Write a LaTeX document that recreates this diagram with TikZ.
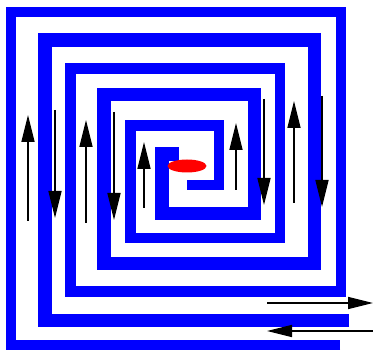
\documentclass[tikz,border=0pt]{standalone}
\usetikzlibrary{arrows.meta}
\begin{document}
\begin{tikzpicture}[x=1pt,y=-1pt,
  coilA/.style={draw=blue,line width=10.5pt,line join=miter},
  coilB/.style={draw=blue,line width=13.5pt,line join=miter},
  flow/.style={draw=black,line width=1.4pt,-{Triangle[length=27pt,width=13pt]}},
  hflow/.style={draw=black,line width=1.4pt,-{Triangle[length=25pt,width=12pt]}}]
\useasboundingbox (0,0) rectangle (373,350);
% conductor A
\draw[coilA] (340,345) -- (11,345) -- (11,12) -- (341,12) -- (341,291.5)
  -- (70.5,291.5) -- (70.5,68.5) -- (280,68.5) -- (280,238) -- (130.5,238)
  -- (130.5,125.5) -- (219,125.5) -- (219,185) -- (187,185);
% conductor B
\draw[coilB] (349,320.5) -- (45,320.5) -- (45,40) -- (314.5,40) -- (314.5,263.5)
  -- (104,263.5) -- (104,94.5) -- (254.5,94.5) -- (254.5,213.5) -- (162,213.5)
  -- (162,154) -- (179,154);
% centre
\fill[red] (187,166) ellipse [x radius=19.5pt, y radius=6.5pt];
% current arrows
\draw[flow] (28,221) -- (28,115);
\draw[flow] (55,110) -- (55,218);
\draw[flow] (86,223) -- (86,120);
\draw[flow] (114,112) -- (114,220);
\draw[flow] (144,208) -- (144,142);
\draw[flow] (236,190) -- (236,123);
\draw[flow] (264,99) -- (264,205);
\draw[flow] (294,203) -- (294,101);
\draw[flow] (322,96) -- (322,207);
\draw[hflow] (267,303) -- (373,303);
\draw[hflow] (373,331) -- (267,331);
\end{tikzpicture}
\end{document}
